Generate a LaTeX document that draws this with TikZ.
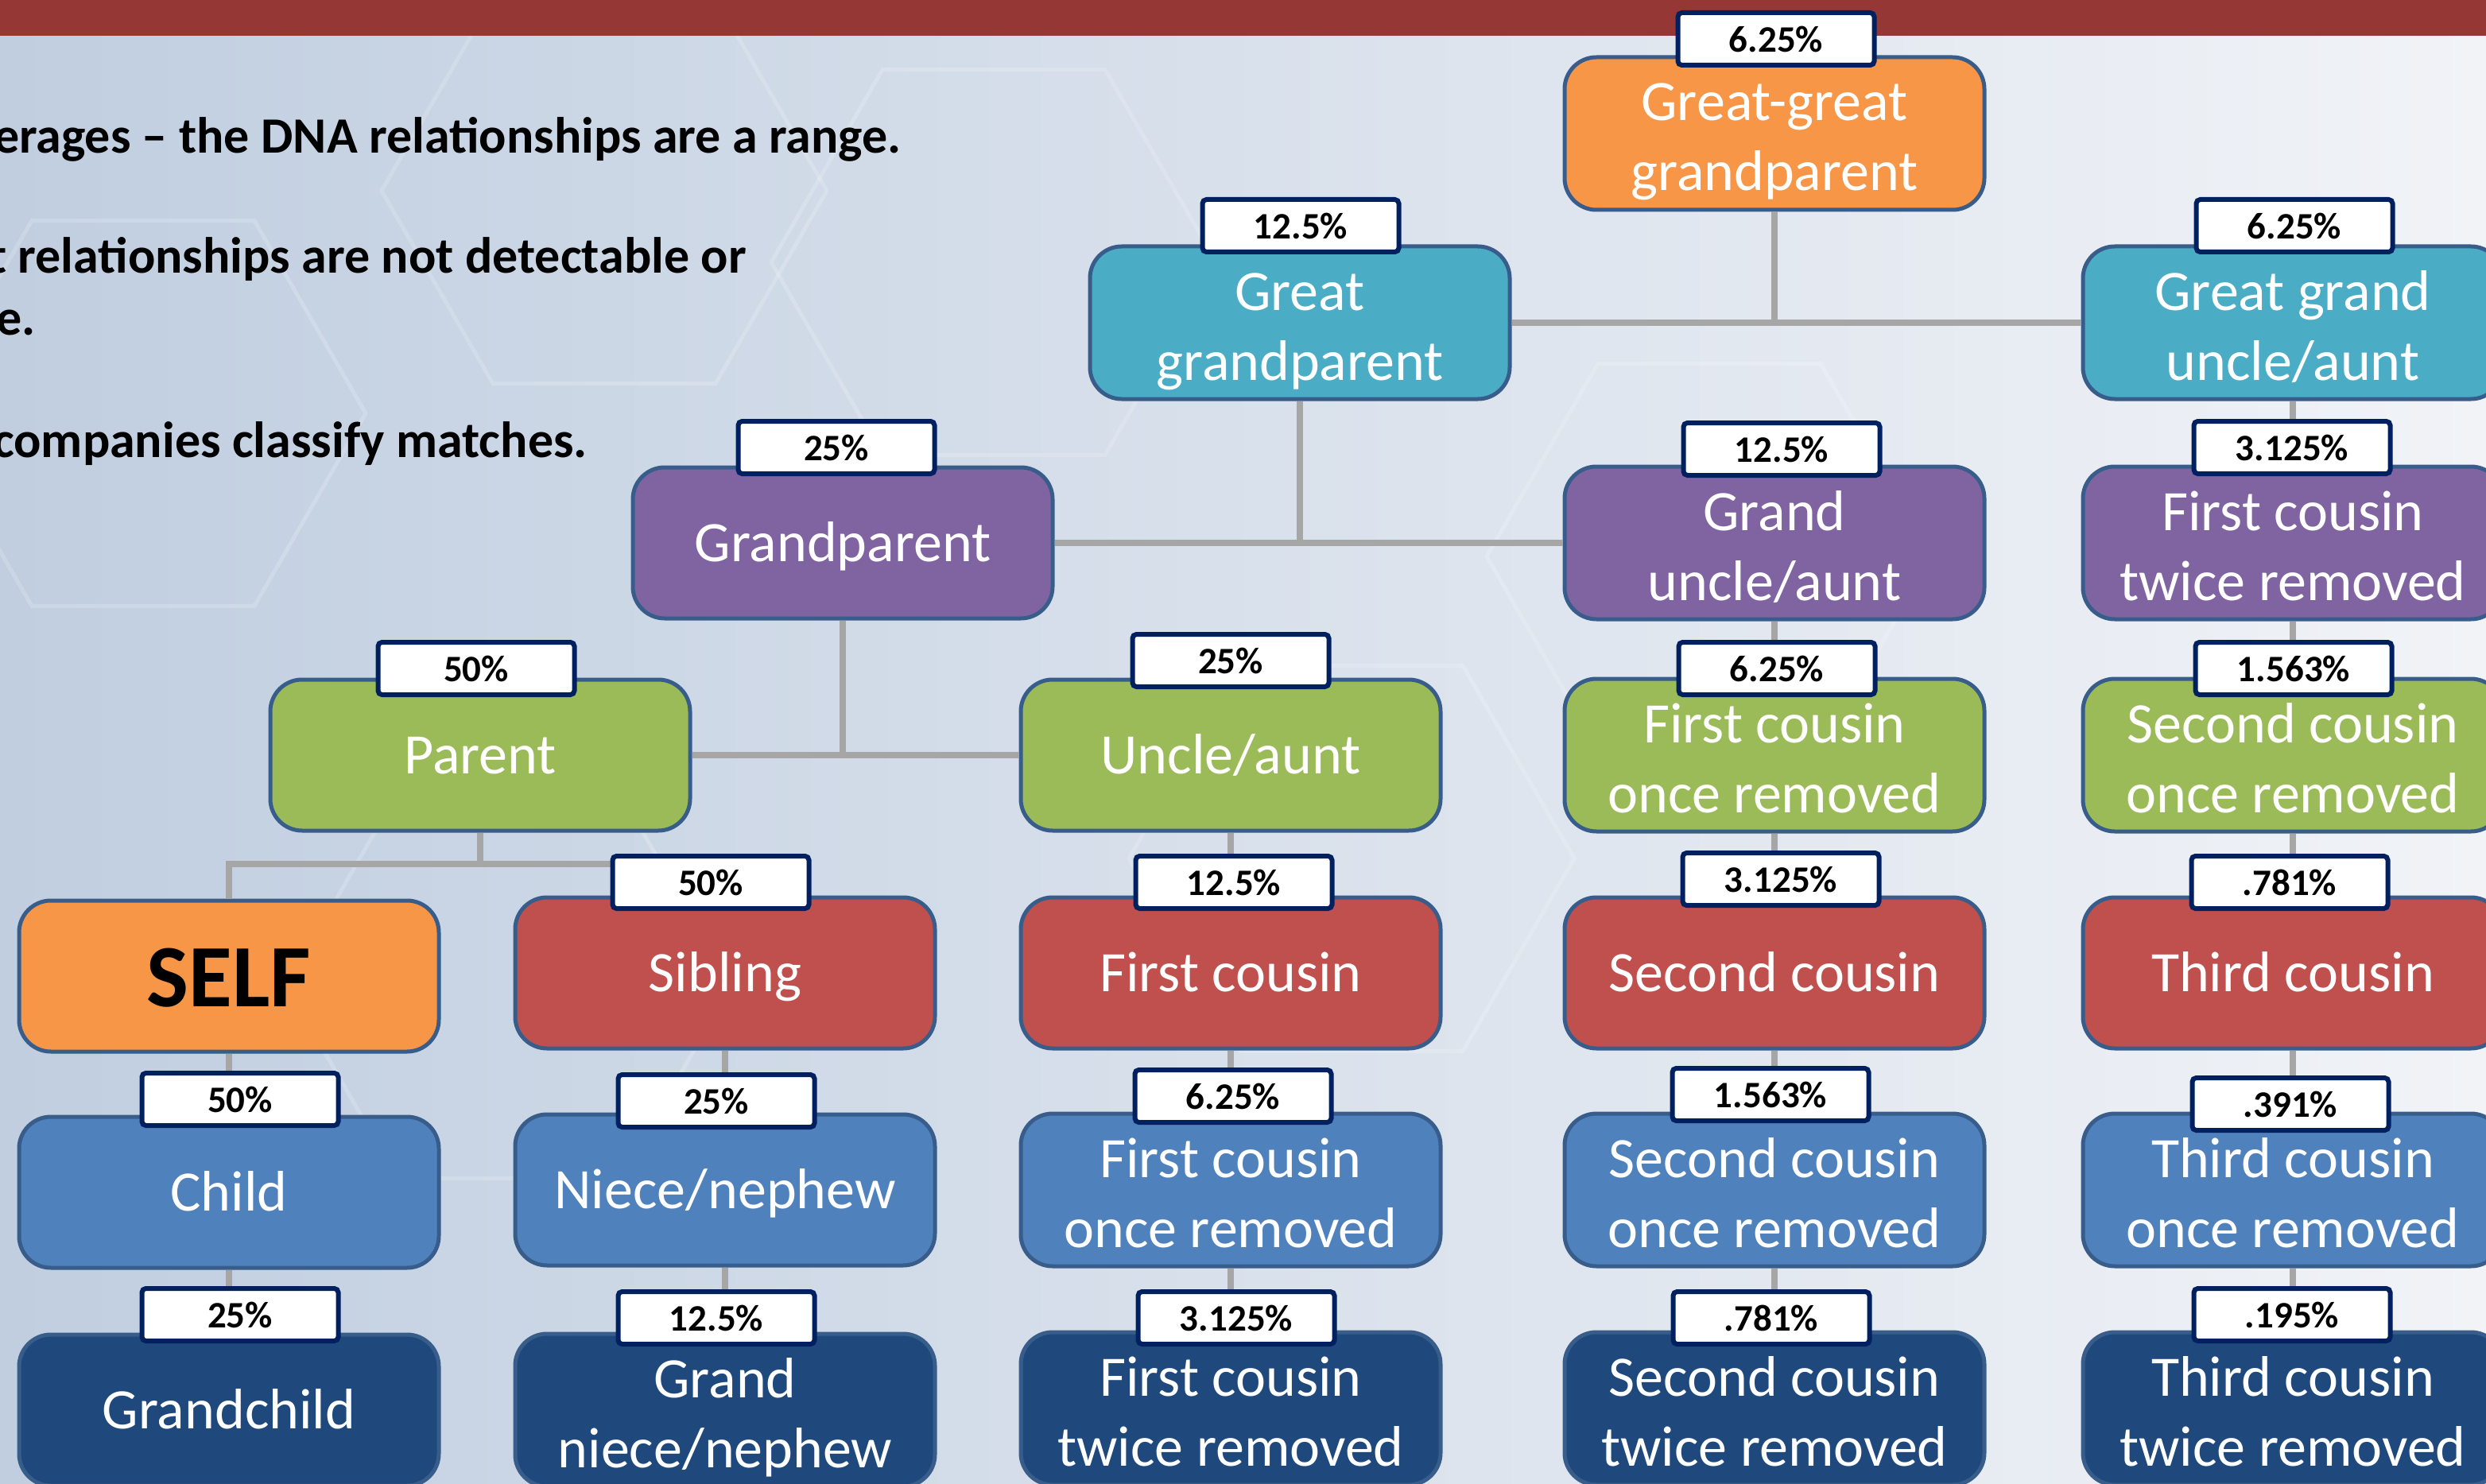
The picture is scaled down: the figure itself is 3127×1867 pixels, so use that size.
\documentclass[tikz,border=0pt]{standalone}
\usepackage{fontspec}
\setmainfont{Carlito}
\usepackage{tikz}
\usetikzlibrary{positioning, calc}
\definecolor{bannercol}{RGB}{149,55,53}
\definecolor{bgleft}{RGB}{192,206,224}
\definecolor{bgmid}{RGB}{220,228,237}
\definecolor{bgright}{RGB}{241,243,247}
\definecolor{orangecol}{RGB}{247,150,70}
\definecolor{tealcol}{RGB}{75,172,198}
\definecolor{purplecol}{RGB}{128,100,162}
\definecolor{greencol}{RGB}{155,187,89}
\definecolor{redcol}{RGB}{192,80,77}
\definecolor{bluecol}{RGB}{79,129,189}
\definecolor{navycol}{RGB}{31,73,125}
\definecolor{edgecol}{RGB}{56,93,138}
\definecolor{pctedge}{RGB}{0,32,96}
\definecolor{linkcol}{RGB}{166,166,166}

\begin{document}
\begin{tikzpicture}[x=1pt, y=-1pt,
  relbox/.style={draw=edgecol, line width=5pt, rounded corners=40pt,
    minimum width=528pt, minimum height=190pt, inner sep=0pt,
    text=white, align=center, font=\fontsize{72}{88}\selectfont,
    execute at begin node={\rule[-24pt]{0pt}{94pt}}},
  twoline/.style={execute at begin node={\rule[-24pt]{0pt}{192pt}}},
  selfbox/.style={text=black, font=\fontsize{112}{130}\selectfont\bfseries,
    execute at begin node={\rule[-24pt]{0pt}{124pt}}},
  pctbox/.style={draw=pctedge, fill=white, line width=6pt, rounded corners=5pt,
    minimum width=247pt, minimum height=66pt, inner sep=0pt,
    font=\fontsize{47}{56}\selectfont\bfseries},
  link/.style={draw=linkcol, line width=8pt},
  note/.style={anchor=base east, inner sep=0pt,
    font=\fontsize{64}{77}\selectfont\bfseries},
  hexline/.style={draw=white, opacity=0.18, line width=5pt}]

  % Frame and background
  \useasboundingbox (0,0) rectangle (3127,1867);
  \clip (0,0) rectangle (3127,1867);
  \shade[left color=bgleft, middle color=bgmid, right color=bgright]
    (0,0) rectangle (3127,1867);
  \foreach \hx/\hy in {180/520, 640/1240, 1250/330, 1700/1080, 760/240, 2150/700} {
    \draw[hexline] (\hx,\hy) +(0:280) -- +(60:280) -- +(120:280)
      -- +(180:280) -- +(240:280) -- +(300:280) -- cycle;
  }
  \fill[bannercol] (0,0) rectangle (3127,45);

  % Notes (cut at the left edge)
  \node[note] (note1) at (1134,193) {erages \textendash{} the DNA relationships are a range.};
  \node[note] (note2) at (939,344) {t relationships are not detectable or};
  \node[note] (note3) at (45,421) {e.};
  \node[note] (note4) at (739,575) {companies classify matches.};

  % Ancestors
  \node[relbox, twoline, fill=orangecol] (ggpar) at (2232,168) {Great-great\\grandparent};
  \node[relbox, twoline, fill=tealcol] (gpar) at (1635,406) {Great\\grandparent};
  \node[relbox, twoline, fill=tealcol] (gguncle) at (2884,406) {Great grand\\uncle/aunt};
  \node[relbox, fill=purplecol] (grandpar) at (1060,683) {Grandparent};
  \node[relbox, twoline, fill=purplecol] (guncle) at (2232,683) {Grand\\uncle/aunt};
  \node[relbox, twoline, fill=purplecol] (fctwoup) at (2884,683) {First cousin\\twice removed};
  \node[relbox, fill=greencol] (parent) at (604,950) {Parent};
  \node[relbox, fill=greencol] (uncle) at (1548,950) {Uncle/aunt};
  \node[relbox, twoline, fill=greencol] (fconeup) at (2232,950) {First cousin\\once removed};
  \node[relbox, twoline, fill=greencol] (sconeup) at (2884,950) {Second cousin\\once removed};

  % Own generation
  \node[relbox, selfbox, fill=orangecol] (self) at (288,1228) {SELF};
  \node[relbox, fill=redcol] (sibling) at (912,1224) {Sibling};
  \node[relbox, fill=redcol] (fcousin) at (1548,1224) {First cousin};
  \node[relbox, fill=redcol] (scousin) at (2232,1224) {Second cousin};
  \node[relbox, fill=redcol] (tcousin) at (2884,1224) {Third cousin};

  % Descendants
  \node[relbox, fill=bluecol] (child) at (288,1500) {Child};
  \node[relbox, fill=bluecol] (niece) at (912,1497) {Niece/nephew};
  \node[relbox, twoline, fill=bluecol] (fconedn) at (1548,1497) {First cousin\\once removed};
  \node[relbox, twoline, fill=bluecol] (sconedn) at (2232,1497) {Second cousin\\once removed};
  \node[relbox, twoline, fill=bluecol] (tconedn) at (2884,1497) {Third cousin\\once removed};
  \node[relbox, fill=navycol] (gchild) at (288,1774) {Grandchild};
  \node[relbox, twoline, fill=navycol] (gniece) at (912,1774) {Grand\\niece/nephew};
  \node[relbox, twoline, fill=navycol] (fctwodn) at (1548,1772) {First cousin\\twice removed};
  \node[relbox, twoline, fill=navycol] (sctwodn) at (2232,1772) {Second cousin\\twice removed};
  \node[relbox, twoline, fill=navycol] (tctwodn) at (2884,1772) {Third cousin\\twice removed};

  % Tree lines
  \draw[link] (ggpar.south) -- (ggpar.south |- gpar.east);
  \draw[link] (gpar.east) -- (gguncle.west);
  \draw[link] (gpar.south) -- (gpar.south |- grandpar.east);
  \draw[link] (grandpar.east) -- (guncle.west);
  \draw[link] (grandpar.south) -- (grandpar.south |- parent.east);
  \draw[link] (parent.east) -- (uncle.west);
  \draw[link] (parent.south) -- ++(0,39) coordinate (fork);
  \draw[link] (self.north) -- (self.north |- fork) -- (sibling.north |- fork)
    -- (sibling.north);
  \draw[link] (self) -- (child) -- (gchild);
  \draw[link] (sibling) -- (niece) -- (gniece);
  \draw[link] (uncle) -- (fcousin) -- (fconedn) -- (fctwodn);
  \draw[link] (guncle) -- (fconeup) -- (scousin) -- (sconedn) -- (sctwodn);
  \draw[link] (gguncle) -- (fctwoup) -- (sconeup) -- (tcousin) -- (tconedn)
    -- (tctwodn);

  % Shared DNA
  \foreach \n/\x/\y/\v in {
    ggpar/2234/49/6.25, gpar/1636/284/12.5, gguncle/2886/284/6.25,
    grandpar/1052/563/25, guncle/2241/565/12.5, fctwoup/2883/563/3.125,
    parent/599/841/50, uncle/1548/831/25, fconeup/2235/841/6.25,
    sconeup/2885/841/1.563, sibling/894/1110/50, fcousin/1552/1110/12.5,
    scousin/2240/1106/3.125, tcousin/2880/1110/.781, child/302/1383/50,
    niece/901/1385/25, fconedn/1551/1379/6.25, sconedn/2227/1377/1.563,
    tconedn/2881/1389/.391, gchild/302/1654/25, gniece/901/1658/12.5,
    fctwodn/1555/1658/3.125, sctwodn/2228/1658/.781, tctwodn/2883/1654/.195} {
    \node[pctbox] (p\n) at (\x,\y) {\v\%};
  }

\end{tikzpicture}
\end{document}
